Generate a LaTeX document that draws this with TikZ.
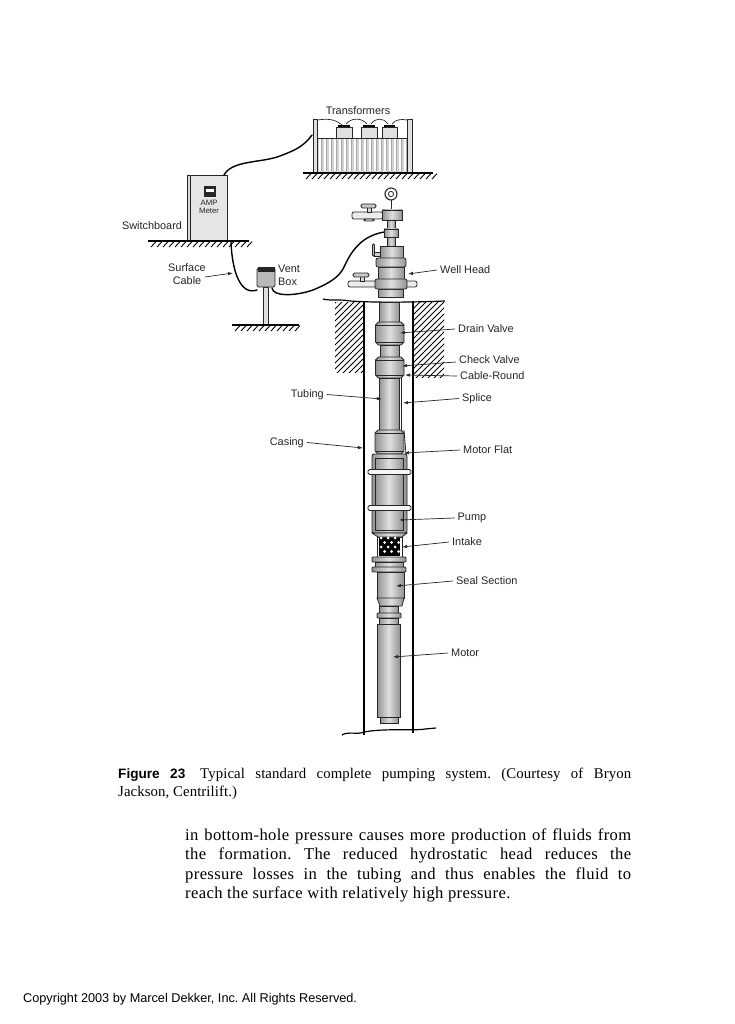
\documentclass[tikz,border=0pt]{standalone}
\usepackage{fontspec}
\setmainfont{Liberation Serif}
\setsansfont{Liberation Sans}
\newfontfamily\bodyfont[LetterSpace=2.2]{Liberation Serif}
\newfontfamily\capfont[LetterSpace=0.6]{Liberation Serif}
\usetikzlibrary{arrows.meta}
\tikzset{
  ink/.style={draw=black!85,line width=0.8pt},
  metal/.style={ink,left color=gray!85,right color=gray!85,middle color=gray!25},
  ring/.style={ink,fill=gray!8,rounded corners=1.5pt},
  cable/.style={draw=black,line width=1.4pt,line cap=round},
  gline/.style={draw=black,line width=1.1pt},
  hatch/.style={draw=black,line width=0.9pt},
  wire/.style={draw=black!85,line width=0.7pt},
  callout/.style={draw=black!85,line width=0.7pt,-{Latex[length=5pt,width=3.4pt]}},
  lab/.style={font=\sffamily\fontsize{10.9}{13}\selectfont,inner sep=3pt,text=black!85},
  post/.style={ink,fill=gray!25},
}
\newcommand{\seg}[4]{\path[metal] (#1,#3) rectangle (#2,#4);}
\newcommand{\collar}[4]{\path[metal] (#1+3,#3) -- (#2-3,#3) -- (#2,#3+3) -- (#2,#4-3) -- (#2-3,#4) -- (#1+3,#4) -- (#1,#4-3) -- (#1,#3+3) -- cycle;
  \draw[ink,line width=0.5pt] (#1,#3+3) -- (#2,#3+3) (#1,#4-3) -- (#2,#4-3);}
\newcommand{\taper}[6]{\path[metal] (#1,#5) -- (#2,#5) -- (#4,#6) -- (#3,#6) -- cycle;}
\newcommand{\groundhatch}[4]{\draw[gline] (#1,#3) -- (#2,#3);
  \foreach \hx in {#1,...,#2}{\pgfmathparse{int(mod(\hx-#1,6))}\ifnum\pgfmathresult=3
    \draw[hatch] (\hx,#3+#4) -- (\hx+5,#3+0.6);\fi}}
\frenchspacing
\begin{document}
\begin{tikzpicture}[x=1pt,y=-1pt]
\useasboundingbox (0,0) rectangle (735,1024);
\fill[white] (0,0) rectangle (735,1024);

% ---------- Transformers ----------
\path[ink,fill=gray!35] (317,138) rectangle (407,172);
\foreach \sx in {319,324,...,404}{\fill[white] (\sx,139) rectangle (\sx+2.4,171.5); \draw[gray!70,line width=0.5pt] (\sx+2.6,139) -- (\sx+2.6,171.5);}
\path[post] (313,119) rectangle (317.5,172);
\path[post] (407,119) rectangle (412,172);
\foreach \bl/\br in {336/352,361/377,382/397}{
  \path[ink,fill=gray!25] (\bl,127) rectangle (\br,138);
  \fill[black] (\bl+2,125.5) rectangle (\br-2,127.5);
  \draw[wire,line width=1pt] ({(\bl+\br)/2-2},125.5) arc[start angle=180,end angle=0,radius=2];
}
\draw[wire] (317.5,120) .. controls (325,119) and (334,118) .. (342,125);
\draw[wire] (346,124) .. controls (351,118) and (361,117) .. (367,124);
\draw[wire] (371,124) .. controls (375,118) and (383,117) .. (388,124);
\draw[wire] (392,124) .. controls (396,119) and (402,119) .. (407,120);
\groundhatch{303}{433}{173}{6}
\node[lab] (ltrans) at (358,111) {Transformers};

% ---------- Switchboard ----------
\path[ink,fill=gray!30] (187,175) rectangle (190,240);
\path[ink,fill=gray!20] (190,175) rectangle (227,240);
\draw[ink,fill=black!85] (204,186) rectangle (215,196);
\fill[white] (205.5,189.5) rectangle (213.5,192.5);
\node[inner sep=0pt,font=\sffamily\fontsize{7.8}{8.6}\selectfont,align=center,text=black!85] (lamp) at (209,207) {AMP\\Meter};
\groundhatch{148}{249}{241}{6}
\node[lab,anchor=center] (lswitch) at (152,226) {Switchboard};

% ---------- Vent box ----------
\path[post] (263,287) rectangle (268,325);
\path[ink,fill=gray!55,rounded corners=1.5pt] (257,268) rectangle (275,287);
\fill[black!85] (257.5,267) rectangle (274.5,272);
\groundhatch{232}{299}{325}{6}
\node[lab,anchor=west,align=left,inner sep=0pt,font=\sffamily\fontsize{10.9}{13}\selectfont] (lvent) at (278,275) {Vent\\Box};

% ---------- Cables ----------
\coordinate (swTop) at (224,175);
\coordinate (fence) at (312,135);
\coordinate (swBot) at (231,242);
\coordinate (ventL) at (257,290);
\coordinate (ventR) at (272,288);
\coordinate (headC) at (384,232);
\draw[cable] (swTop) .. controls (232,160) and (262,163) .. (280,156) .. controls (296,150) and (304,146) .. (fence);
\draw[cable] (swBot) .. controls (232,270) and (240,296) .. (ventL);
\draw[cable] (ventR) .. controls (273,297) and (296,296) .. (313,290)
   .. controls (335,281) and (341,274) .. (345,265) .. controls (352,250) and (362,236) .. (headC);

% ---------- Ground, wellbore ----------
\begin{scope}
\clip (335,302) rectangle (364,372);
\foreach \hy in {296,302,...,420}{\draw[hatch] (330,\hy) -- (370,\hy-40);}
\end{scope}
\begin{scope}
\clip (413,302) rectangle (444,377);
\foreach \hy in {296,302,...,420}{\draw[hatch] (408,\hy) -- (450,\hy-42);}
\end{scope}
\draw[gline,line width=1.2pt] (323,299) .. controls (330,301) and (340,299) .. (350,301) .. controls (380,303) and (420,302) .. (445,301);
\draw[gline,line width=1.3pt] (364,301) -- (364,735);
\draw[gline,line width=1.3pt] (413,301) -- (413,733);
\draw[gline,line width=1.2pt] (342,735) .. controls (348,731) and (358,735) .. (364,732) .. controls (385,728) and (415,731) .. (425,729) -- (436,728);

% ---------- Well head ----------
\draw[ink,line width=1pt] (391,200.5) -- (391,210);
\draw[ink,fill=white,line width=1.1pt] (391,194) circle[radius=6];
\draw[ink] (391,194) circle[radius=2.6];
\path[ink,fill=gray!15,rounded corners=2pt] (352,212) rectangle (383,219);
\draw[ink,fill=gray!30] (367,207) rectangle (371,212);
\path[ink,fill=gray!45,rounded corners=1.5pt] (361,204) rectangle (376,208);
\path[ink,fill=gray!30,rounded corners=1.5pt] (364,219) rectangle (374,221);
\seg{382}{402}{210}{220}
\seg{387}{395}{220}{229}
\seg{384}{398}{229}{237}
\seg{387}{395}{237}{246}
\draw[ink,fill=gray!40] (374,252) rectangle (380,256);
\path[ink,fill=gray!50,rounded corners=1pt] (372.5,244) rectangle (374.5,256);
\seg{380}{403}{246}{258}
\path[ink,fill=gray!15,rounded corners=2pt] (348,281) rectangle (376,287);
\path[ink,fill=gray!15,rounded corners=2pt] (405,281) rectangle (417,287);
\draw[ink,fill=gray!30] (360,276) rectangle (364,281);
\path[ink,fill=gray!45,rounded corners=1.5pt] (353,273) rectangle (369,277);
\seg{378}{404}{267}{279}
\seg{378}{403}{289}{297}
\path[metal,rounded corners=2pt] (376,258) rectangle (406,267);
\path[metal,rounded corners=2pt] (375,279) rectangle (407,289);

% ---------- Downhole string ----------
\seg{379}{399}{302}{322}
\collar{375.5}{404}{322}{345}
\seg{380}{399}{345}{357}
\collar{375.5}{404}{357}{378}
\seg{379}{399}{378}{430}
\draw[ink] (401,378) -- (401,430);
\collar{375}{404}{430}{454}
\draw[ink] (404,430) -- (406,454);
\path[metal,rounded corners=2pt] (372,454) rectangle (407,533);
\seg{375}{403}{458}{530}
\path[ring] (368,469.5) rectangle (411,474.5);
\path[ring] (368,505.5) rectangle (411,510.5);
\taper{372}{407}{378}{402}{533}{537}
% intake
\path[ink,fill=white] (377,537) rectangle (402,557);
\fill[black] (379,538) rectangle (400,556);
\foreach \dx/\dy in {381/538,388/538,395/538,384.5/542.5,391.5/542.5,398.5/542.5,381/547,388/547,395/547,384.5/551.5,391.5/551.5,398.5/551.5}{
  \fill[white] (\dx,\dy) circle[radius=1.5];}
\path[metal,rounded corners=1pt] (372,557) rectangle (406,562);
\seg{375}{403}{562}{567}
\path[metal,rounded corners=1pt] (372,567) rectangle (406,572);
\seg{377}{404}{572}{598}
\taper{377}{404}{380}{402}{598}{606}
\seg{379}{398}{606}{613}
\path[metal,rounded corners=1pt] (377,613) rectangle (401,618);
\seg{379}{398}{618}{624}
\seg{377}{400}{624}{717}
\seg{380}{398}{717}{723}

% ---------- Targets ----------
\coordinate (tSurface) at (233,273);
\coordinate (tHead) at (408,274);
\coordinate (tDrain) at (400,333);
\coordinate (tCheck) at (402,366);
\coordinate (tRound) at (405,375);
\coordinate (tSplice) at (403,403);
\coordinate (tFlat) at (404,453);
\coordinate (tPump) at (399,520);
\coordinate (tIntake) at (402,547);
\coordinate (tSeal) at (396,586);
\coordinate (tMotor) at (393,657);
\coordinate (tTubing) at (382,399);
\coordinate (tCasing) at (363,448);

% ---------- Labels and callouts ----------
\node[lab,align=center,inner sep=0pt] (lsurface) at (187,274) {Surface\\Cable};
\node[lab,anchor=west] (lhead) at (437,270) {Well Head};
\node[lab,anchor=west] (ldrain) at (455,329) {Drain Valve};
\node[lab,anchor=west] (lcheck) at (456,360) {Check Valve};
\node[lab,anchor=west] (lround) at (457,376) {Cable-Round};
\node[lab,anchor=west] (lsplice) at (459,398.5) {Splice};
\node[lab,anchor=west] (lflat) at (460,450) {Motor Flat};
\node[lab,anchor=west] (lpump) at (454.5,518) {Pump};
\node[lab,anchor=west] (lintake) at (449,542) {Intake};
\node[lab,anchor=west] (lseal) at (453,581) {Seal Section};
\node[lab,anchor=west] (lmotor) at (448,653) {Motor};
\node[lab,anchor=east] (ltubing) at (327,394.5) {Tubing};
\node[lab,anchor=east] (lcasing) at (307,442.5) {Casing};

\draw[callout] (lsurface.east) ++(-1,3) coordinate (sS) -- (tSurface);
\draw[callout] (lhead.west) -- (tHead);
\draw[callout] (ldrain.west) -- (tDrain);
\draw[callout] (lcheck.west) ++(0,2) coordinate (sC) -- (tCheck);
\draw[callout] (lround.west) -- (tRound);
\draw[callout] (lsplice.west) -- (tSplice);
\draw[callout] (lflat.west) -- (tFlat);
\draw[callout] (lpump.west) -- (tPump);
\draw[callout] (lintake.west) -- (tIntake);
\draw[callout] (lseal.west) -- (tSeal);
\draw[callout] (lmotor.west) -- (tMotor);
\draw[callout] (ltubing.east) -- (tTubing);
\draw[callout] (lcasing.east) -- (tCasing);

% ---------- Page text ----------
\node[anchor=base west,inner sep=0pt] (cap1) at (118,778) {\capfont\fontsize{14.8}{17}\selectfont\makebox[513pt][s]{{\sffamily\bfseries\fontsize{13.6}{17}\selectfont Figure 23}\hspace{0.3em} Typical standard complete pumping system. (Courtesy of Bryon}};
\node[anchor=base west,inner sep=0pt] (cap2) at (118,796) {\capfont\fontsize{14.8}{17}\selectfont Jackson, Centrilift.)};
\node[anchor=base west,inner sep=0pt] (b1) at (185,840) {\bodyfont\fontsize{16.6}{18}\selectfont\makebox[446pt][s]{in bottom-hole pressure causes more production of fluids from}};
\node[anchor=base west,inner sep=0pt] (b2) at (185,859.5) {\bodyfont\fontsize{16.6}{18}\selectfont\makebox[446pt][s]{the formation. The reduced hydrostatic head reduces the}};
\node[anchor=base west,inner sep=0pt] (b3) at (185,879) {\bodyfont\fontsize{16.6}{18}\selectfont\makebox[446pt][s]{pressure losses in the tubing and thus enables the fluid to}};
\node[anchor=base west,inner sep=0pt] (b4) at (185,898) {\bodyfont\fontsize{16.6}{18}\selectfont reach the surface with relatively high pressure.};
\node[anchor=base west,inner sep=0pt] (copy) at (23,1002) {\sffamily\fontsize{12.7}{14}\selectfont Copyright 2003 by Marcel Dekker, Inc. All Rights Reserved.};
\end{tikzpicture}
\end{document}
